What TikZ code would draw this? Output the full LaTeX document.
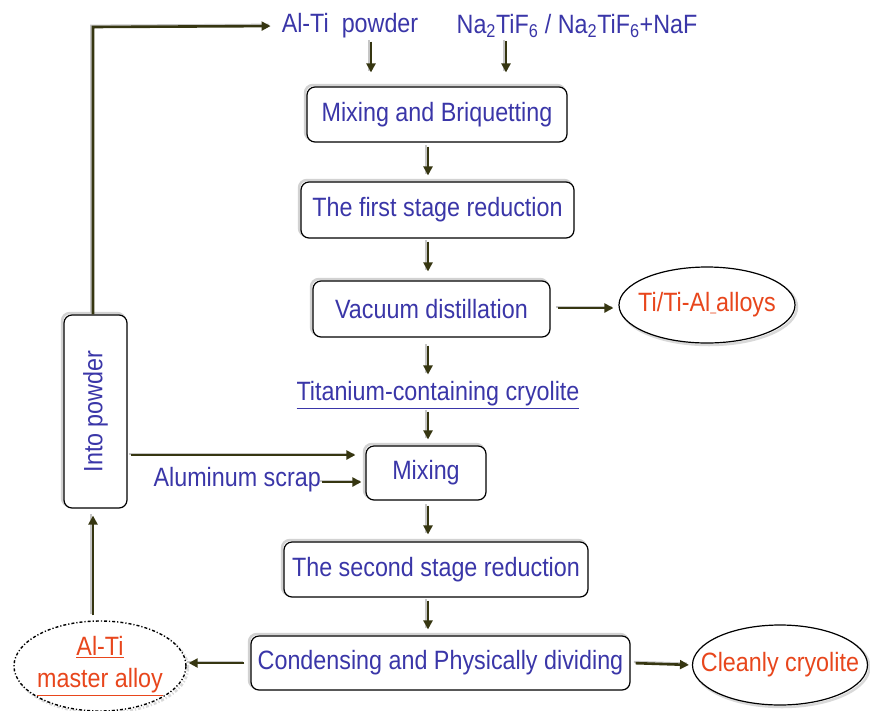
\documentclass[tikz,border=0pt]{standalone}
\usepackage{fontspec}
\setmainfont{Liberation Sans}[FakeStretch=0.88]
\usetikzlibrary{arrows.meta,shapes.geometric,calc}
\definecolor{txtblue}{HTML}{3A36A8}
\definecolor{txtred}{HTML}{E8461C}
\definecolor{arrcol}{HTML}{363611}
\tikzset{
  bigfont/.style={font=\fontsize{26.5}{30}\selectfont},
  box/.style={draw=black, line width=1.2pt, rounded corners=8pt, fill=white,
    text=txtblue, bigfont, inner sep=0pt,
    preaction={draw=gray!35, line width=2.5pt, transform canvas={shift={(-2pt,2pt)}}}},
  oval/.style={ellipse, draw=black, line width=1.2pt, fill=white, inner xsep=-40pt, inner ysep=0pt,
    text=txtred, bigfont,
    preaction={draw=gray!30, line width=2.5pt, transform canvas={shift={(2pt,-2pt)}}}},
  lbl/.style={text=txtblue, bigfont, inner sep=1pt},
  arr/.style={draw=arrcol, line width=2.6pt, -{Triangle[length=9pt,width=9pt]},
    preaction={draw=gray!45, line width=2.4pt, -, transform canvas={shift={(-1.8pt,1.2pt)}}}},
}
\begin{document}
\begin{tikzpicture}[x=1pt,y=-1pt]
\useasboundingbox (0,0) rectangle (870,710);
\coordinate (axis) at (428,0);
% labels
\node[lbl] (alp) at (350,26) {Al-Ti\ \ powder};
\node[lbl] (na) at (577,26) {Na\textsubscript{2}TiF\textsubscript{6} / Na\textsubscript{2}TiF\textsubscript{6}+NaF};
% boxes
\node[box, minimum width=260, minimum height=55] (mb) at (437,114.5) {Mixing and Briquetting};
\node[box, minimum width=273, minimum height=56] (fs) at (437.5,210) {The first stage reduction};
\node[box, minimum width=237, minimum height=56] (vd) at (431.5,309) {Vacuum distillation};
\node[oval, minimum width=176, minimum height=76] (ti) at (707,305) {Ti/Ti-Al{\fontsize{12}{12}\selectfont\_}alloys};
\node[lbl] (tc) at (438,395) {\underline{Titanium-containing cryolite}};
\node[box, minimum width=120, minimum height=54] (mx) at (426,473) {Mixing};
\node[lbl, anchor=east] (as) at (322,480) {Aluminum scrap};
\node[box, rotate=90, minimum width=193, minimum height=63] (ip) at (95.5,411.5) {Into powder};
\node[box, minimum width=304, minimum height=55] (sr) at (436,569.5) {The second stage reduction};
\node[box, minimum width=379, minimum height=54] (cd) at (440.5,663) {Condensing and Physically dividing};
\node[oval, draw=black, dash dot, line width=1.4pt, minimum width=172, minimum height=90, align=center,
  preaction={draw=none}] (mal) at (100,666) {\underline{Al-Ti}\\[2pt]\underline{master alloy}};
\node[oval, minimum width=175, minimum height=80] (cc) at (780,665) {Cleanly cryolite};
% arrows
\draw[arr, shorten <=2pt, shorten >=14pt] (alp.south -| 371,0) -- (mb.north -| 371,0);
\draw[arr, shorten <=2pt, shorten >=14pt] (na.south -| 506,0) -- (mb.north -| 506,0);
\draw[arr, shorten <=4pt, shorten >=6pt] (mb.south -| axis) -- (fs.north -| axis);
\draw[arr, shorten <=3pt, shorten >=9pt] (fs.south -| axis) -- (vd.north -| axis);
\draw[arr, shorten <=8pt, shorten >=6pt] (vd.south -| axis) -- (tc.north -| axis);
\draw[arr, shorten <=2pt, shorten >=6pt] (tc.south -| axis) -- (mx.north -| axis);
\draw[arr, shorten <=5pt, shorten >=7pt] (mx.south -| axis) -- (sr.north -| axis);
\draw[arr, shorten <=3pt, shorten >=6pt] (sr.south -| axis) -- (cd.north -| axis);
\draw[arr, shorten <=7pt, shorten >=5pt] (vd.east |- 0,308) -- (ti.west |- 0,308);
\draw[arr, shorten <=6pt, shorten >=2pt] (cd.west) -- (mal.east |- cd.west);
\draw[arr, shorten <=5pt, shorten >=3pt] (cd.east) -- (cc.west);
\draw[arr, shorten <=5pt, shorten >=7pt] (mal.north -| 93,0) -- (ip.west -| 93,0);
\draw[arr, shorten >=10pt] (ip.east -| 93,0) -- (93,27) -- (alp.west);
\draw[arr, shorten <=3pt, shorten >=10pt] (ip.south |- 0,455) -- (mx.west |- 0,455);
\draw[arr, shorten <=0pt, shorten >=4pt] (as.east |- 0,482) -- (mx.west |- 0,482);
\end{tikzpicture}
\end{document}
